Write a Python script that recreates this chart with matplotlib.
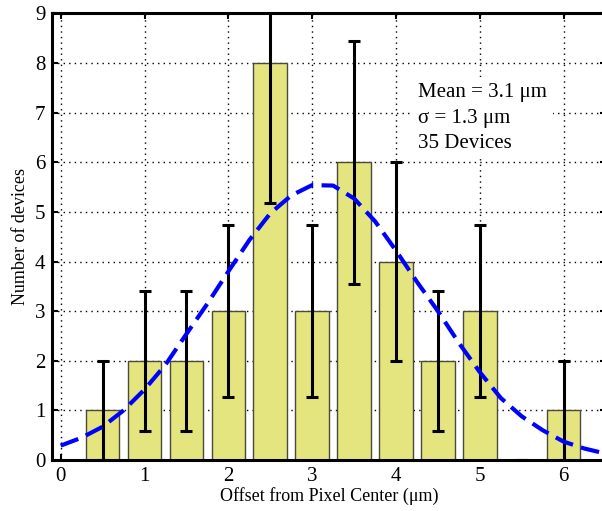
import matplotlib
matplotlib.use("Agg")
import matplotlib.pyplot as plt

# histogram of offsets (bin centres in um) and counts
bin_centers = [0.5, 1.0, 1.5, 2.0, 2.5, 3.0, 3.5, 4.0, 4.5, 5.0, 5.5, 6.0]
counts = [1, 2, 2, 3, 8, 3, 6, 4, 2, 3, 0, 1]
count_err = [1.0, 1.41, 1.41, 1.73, 2.83, 1.73, 2.45, 2.0, 1.41, 1.73, 0.0, 1.0]

# gaussian fit
fit_x = [0, 0.25, 0.5, 0.75, 1.0, 1.25, 1.5, 1.75, 2.0, 2.25, 2.5, 2.75, 3.0,
         3.25, 3.5, 3.75, 4.0, 4.25, 4.5, 4.75, 5.0, 5.25, 5.5, 5.75, 6.0, 6.25, 6.5]
fit_y = [0.29, 0.45, 0.67, 1.00, 1.42, 1.92, 2.54, 3.15, 3.80, 4.43, 4.97, 5.33, 5.54,
         5.53, 5.27, 4.81, 4.22, 3.59, 3.00, 2.36, 1.77, 1.25, 0.88, 0.60, 0.37, 0.23, 0.13]

x_ticks = [0, 1, 2, 3, 4, 5, 6]
y_ticks = list(range(10))

stats_text = "Mean = 3.1 μm\nσ = 1.3 μm\n35 Devices"

plt.rcParams["font.family"] = ["Liberation Serif", "DejaVu Serif"]

fig = plt.figure(figsize=(6.02, 5.11), dpi=100)
ax = fig.add_axes([0.0869, 0.0998, 0.919, 0.874])

ax.bar(bin_centers, counts, width=0.4, color="#e5e580", edgecolor="#4a4a3a",
       linewidth=1.0, zorder=2)
ax.errorbar(bin_centers, counts, yerr=count_err, fmt="none", ecolor="black",
            elinewidth=2.2, capsize=4, capthick=2.2, zorder=3)
ax.plot(fit_x, fit_y, color="#0000ff", linewidth=3, linestyle=(0, (4.5, 2)),
        dash_capstyle="butt", zorder=4)

# baseline of the last line
ax.text(4.26, 6.29, stats_text, fontsize=15, va="baseline", linespacing=1.45,
        bbox=dict(boxstyle="square,pad=0.3", facecolor="white", edgecolor="none"),
        zorder=5)

ax.set_xlim(-0.1, 6.5)
ax.set_ylim(0, 9)
ax.set_xticks(x_ticks)
ax.set_yticks(y_ticks)
ax.set_axisbelow(True)
ax.grid(True, linestyle=(0, (1, 3)), color="black", linewidth=1.0)

ax.tick_params(direction="in", top=True, right=True, length=4, width=1.5,
               labelsize=15, pad=5)
for sp in ax.spines.values():
    sp.set_linewidth(2.2)

ax.set_xlabel("Offset from Pixel Center (μm)", fontsize=13, labelpad=1)
ax.set_ylabel("Number of devices", fontsize=13, labelpad=4)

fig.savefig("out.png", dpi=100)
